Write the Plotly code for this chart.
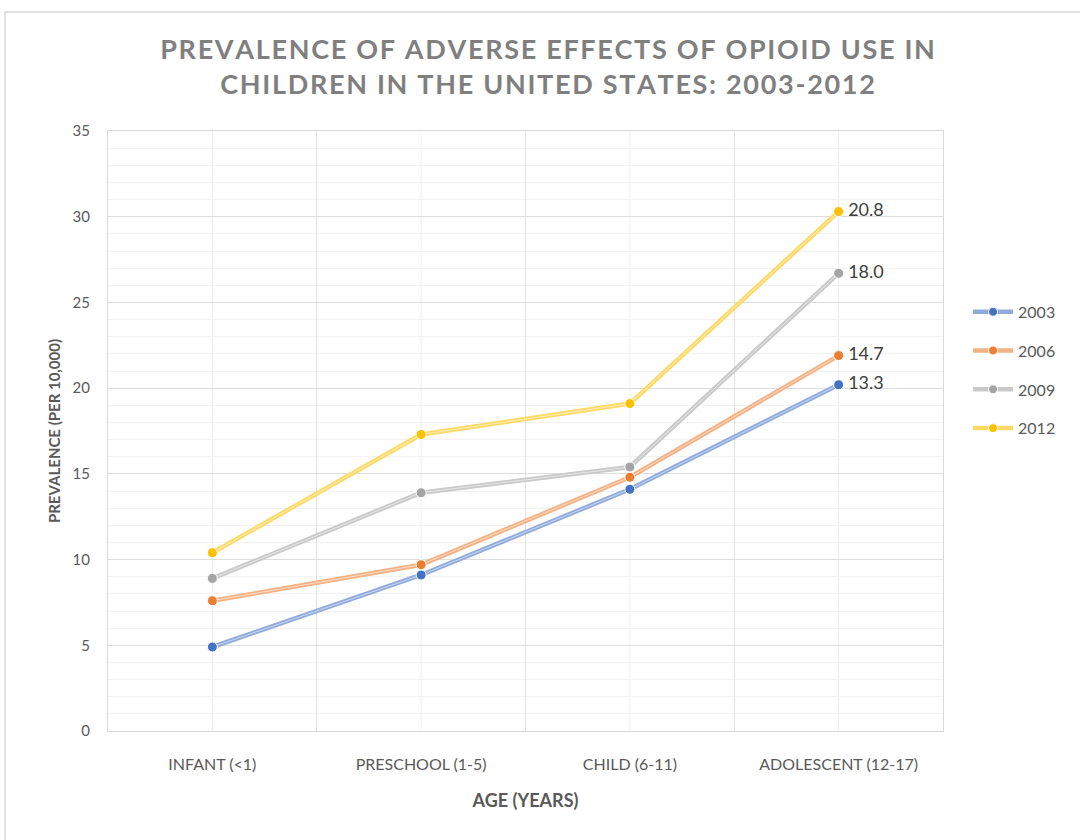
import plotly.graph_objects as go

categories = ["INFANT (<1)", "PRESCHOOL (1-5)", "CHILD (6-11)", "ADOLESCENT (12-17)"]
years = ["2003", "2006", "2009", "2012"]
vals_2003 = [4.9, 9.1, 14.1, 20.2]
vals_2006 = [7.6, 9.7, 14.8, 21.9]
vals_2009 = [8.9, 13.9, 15.4, 26.7]
vals_2012 = [10.4, 17.3, 19.1, 30.3]
end_labels = ["13.3", "14.7", "18.0", "20.8"]

series = [vals_2003, vals_2006, vals_2009, vals_2012]
marker_colors = ["#4472C4", "#ED7D31", "#A5A5A5", "#FFC000"]
line_colors = ["#8FAADC", "#F4B183", "#C9C9C9", "#FFD966"]

FONT = "Lato"
HS = "\u200a"


def spaced(s):
    return HS.join(s)


fig = go.Figure()

for i, (yr, vals) in enumerate(zip(years, series)):
    fig.add_trace(go.Scatter(
        x=categories, y=vals, mode="lines+markers", name=yr, legendgroup=yr,
        line=dict(color=line_colors[i], width=4.5),
        marker=dict(color=marker_colors[i], size=9, line=dict(color="white", width=1))))
for i, (yr, vals) in enumerate(zip(years, series)):
    fig.add_trace(go.Scatter(
        x=categories, y=vals, mode="lines", showlegend=False,
        line=dict(color="rgba(255,255,255,0.55)", width=1), hoverinfo="skip"))
for i, (yr, vals) in enumerate(zip(years, series)):
    texts = [""] * (len(vals) - 1) + ["\u2009" + end_labels[i]]
    fig.add_trace(go.Scatter(
        x=categories, y=vals, mode="markers+text", showlegend=False,
        marker=dict(color=marker_colors[i], size=10, line=dict(color="white", width=1)),
        text=texts, textposition="middle right",
        textfont=dict(family=FONT, size=18, color="#404040")))

# center-of-category vertical gridlines
for c in categories:
    fig.add_shape(type="line", xref="x", yref="paper", x0=c, x1=c, y0=0, y1=1,
                  line=dict(color="#EEEEEE", width=1), layer="below")

# outer chart border
fig.add_shape(type="rect", xref="paper", yref="paper",
              x0=(5 - 108) / 835, x1=(1090 - 108) / 835,
              y0=(731 - 850) / 600, y1=(731 - 12) / 600,
              line=dict(color="#D9D9D9", width=1.5), fillcolor="rgba(0,0,0,0)", layer="below")

title_l1 = "PREVALENCE OF ADVERSE EFFECTS OF OPIOID USE IN"
title_l2 = "CHILDREN IN THE UNITED STATES: 2003-2012"

fig.update_layout(
    width=1080, height=840,
    margin=dict(l=108, r=137, t=131, b=109),
    paper_bgcolor="white", plot_bgcolor="white",
    font=dict(family=FONT, color="#595959"),
    title=dict(
        text="<b>" + spaced(title_l1) + "<br>" + spaced(title_l2) + "</b>",
        x=0.507, xanchor="center", y=0.93, yanchor="middle",
        font=dict(family=FONT, size=27, color="#7F7F7F")),
    xaxis=dict(
        type="category", range=[-0.5, 3.5], tickson="boundaries",
        showgrid=True, gridcolor="#E3E3E3", gridwidth=1,
        showline=True, linecolor="#D9D9D9", mirror=True, ticks="",
        ticklabelstandoff=19,
        tickfont=dict(family=FONT, size=16, color="#595959"),
        title=dict(text="<b>AGE (YEARS)</b>", standoff=22,
                   font=dict(family=FONT, size=18, color="#595959"))),
    yaxis=dict(
        range=[0, 35], dtick=5, showgrid=True, gridcolor="#DDDDDD",
        minor=dict(dtick=1, showgrid=True, gridcolor="#F2F2F2"),
        showline=True, linecolor="#D9D9D9", mirror=True, zeroline=False,
        ticks="", ticklen=0, ticklabelstandoff=14,
        tickfont=dict(family=FONT, size=15, color="#595959"),
        title=dict(text="<b>PREVALENCE (PER 10,000)</b>", standoff=8,
                   font=dict(family=FONT, size=15, color="#595959"))),
    legend=dict(x=1.03, xanchor="left", y=0.727, yanchor="top",
                font=dict(family=FONT, size=16, color="#595959"),
                tracegroupgap=15, itemwidth=40, bgcolor="rgba(0,0,0,0)"),
)

fig.write_html("out.html")
